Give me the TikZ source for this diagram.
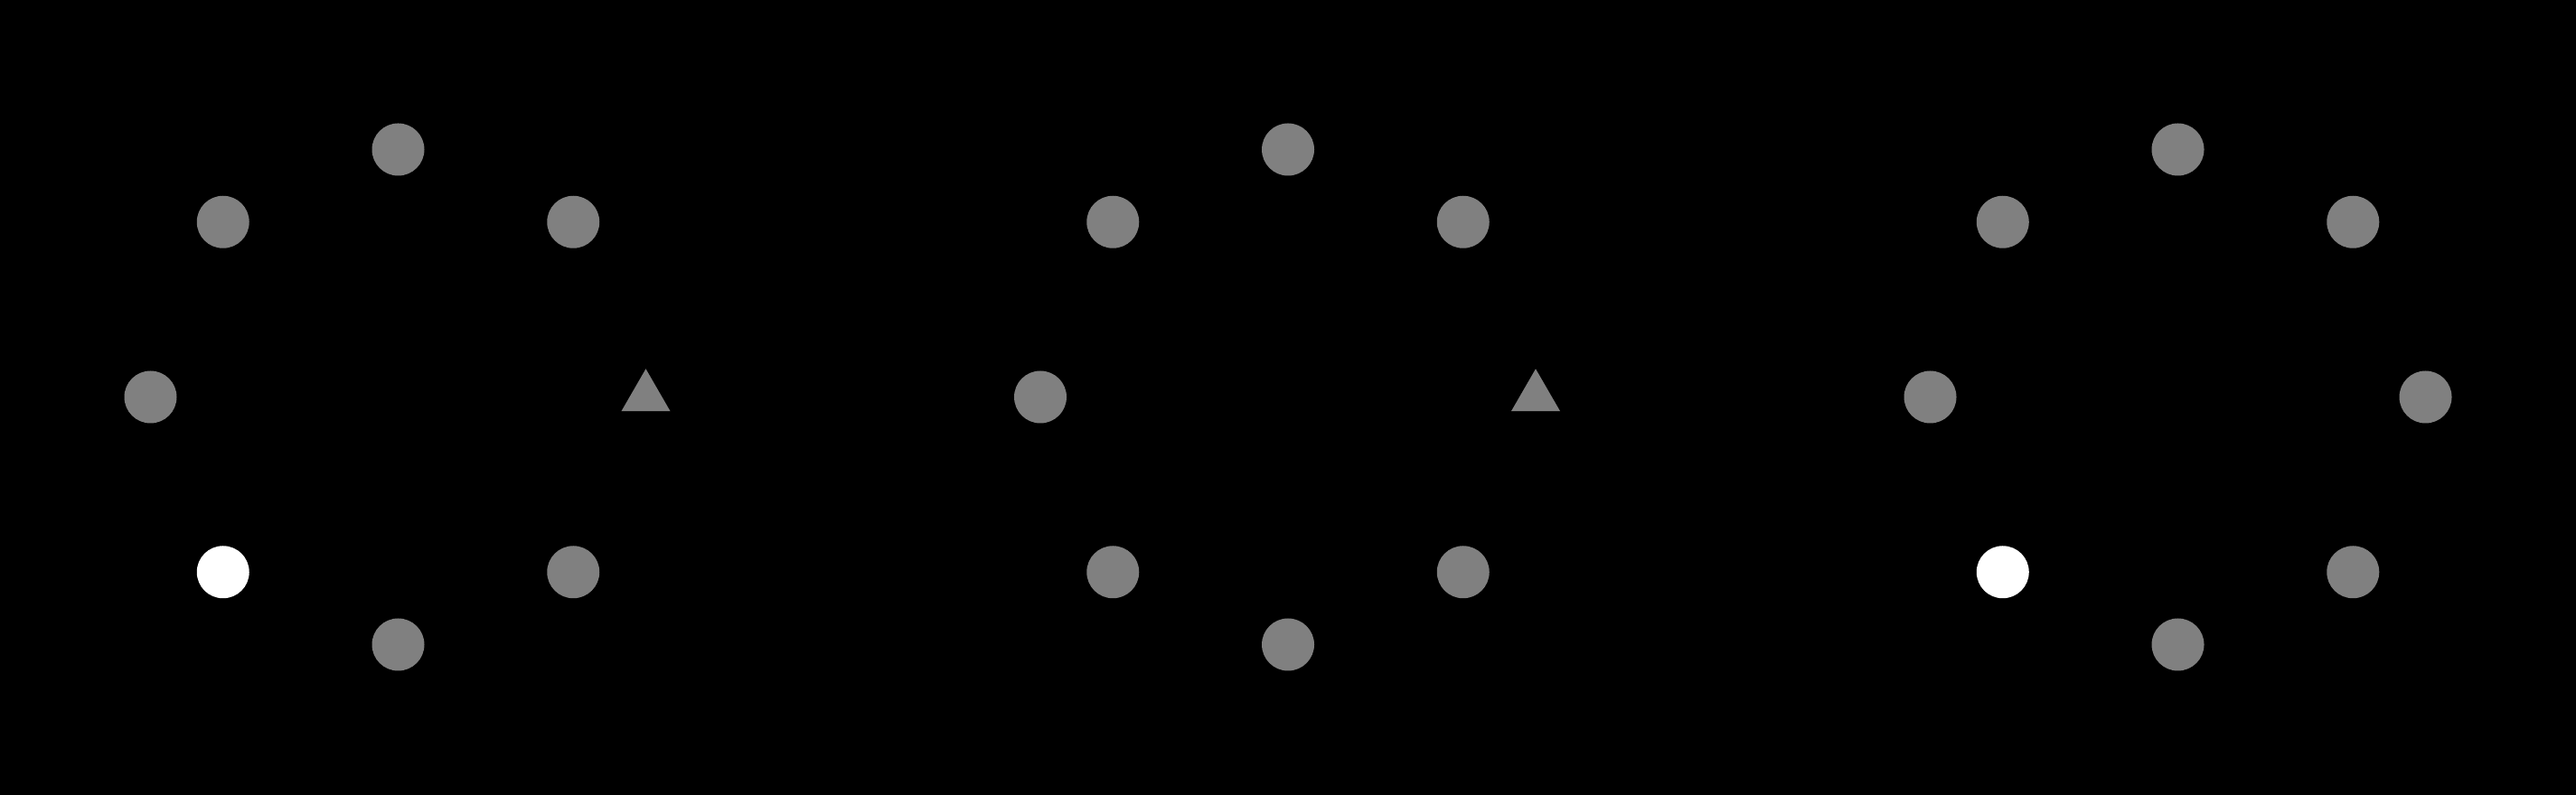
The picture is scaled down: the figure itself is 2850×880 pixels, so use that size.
\documentclass[tikz,border=0pt]{standalone}
\usepackage{tikz}
\usetikzlibrary{shapes.geometric}
\definecolor{dotgray}{HTML}{808080}
\tikzset{
  pt/.style    = {circle, fill=dotgray, minimum size=5.8mm, inner sep=0pt},
  ptlit/.style = {pt, fill=white},
  tri/.style   = {regular polygon, regular polygon sides=3, fill=dotgray,
                  minimum size=6.24mm, inner sep=0pt},
}
\begin{document}
\begin{tikzpicture}[x=0.1mm,y=0.1mm]
  \fill[black] (0,0) rectangle (2850,880);
  % left ring
  \begin{scope}[shift={(440.5,440.5)}]
    \foreach \k in {1,2,3,4,6,7}{
      \node[pt] (a\k) at (\k*45:274) {};}
    \node[ptlit] (a5) at (225:274) {};
    \node[tri] (a0) at (0:274) {};
  \end{scope}
  % middle ring
  \begin{scope}[shift={(1425,440.5)}]
    \foreach \k in {1,...,7}{
      \node[pt] (b\k) at (\k*45:274) {};}
    \node[tri] (b0) at (0:274) {};
  \end{scope}
  % right ring
  \begin{scope}[shift={(2409.5,440.5)}]
    \foreach \k in {0,1,2,3,4,6,7}{
      \node[pt] (c\k) at (\k*45:274) {};}
    \node[ptlit] (c5) at (225:274) {};
  \end{scope}
\end{tikzpicture}
\end{document}
